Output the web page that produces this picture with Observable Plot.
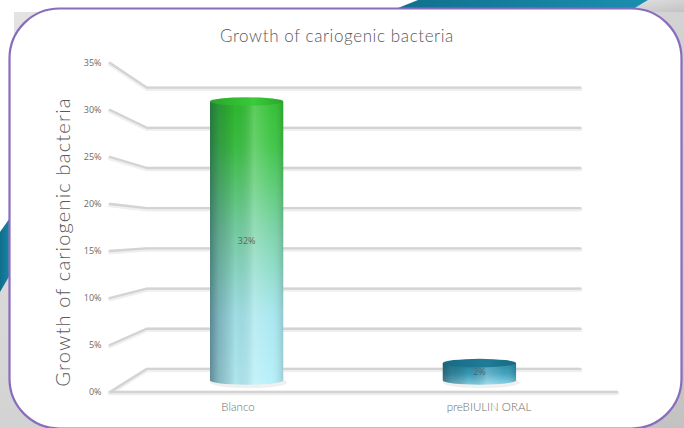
<!DOCTYPE html>
<html>
<head>
<meta charset="utf-8">
<script src="https://cdn.jsdelivr.net/npm/d3@7"></script>
<script src="https://cdn.jsdelivr.net/npm/@observablehq/plot@0.6"></script>
<style>
  html, body { margin: 0; padding: 0; width: 684px; height: 428px; overflow: hidden; background: #fff; }
  #stage { position: relative; width: 684px; height: 428px; overflow: hidden; }
  #bg, #chart { position: absolute; left: 0; top: 0; }
  #title { position: absolute; left: 0; top: 25px; width: 674px; text-align: center;
           font-family: Lato, sans-serif; font-weight: 300; font-size: 17px; letter-spacing: 0.6px; color: #595959; }
  .ytitle text { letter-spacing: 1.2px; }
</style>
</head>
<body>
<div id="stage">
  <svg id="bg" width="684" height="428">
    <defs>
      <linearGradient id="grayBg" x1="0" y1="0" x2="1" y2="1">
        <stop offset="0" stop-color="#e4e4e4"/>
        <stop offset="1" stop-color="#c2c2c2"/>
      </linearGradient>
      <linearGradient id="tealBg" x1="0" y1="0" x2="1" y2="0">
        <stop offset="0" stop-color="#0f6f8c"/>
        <stop offset="1" stop-color="#1a8fb0"/>
      </linearGradient>
    </defs>
    <rect x="0" y="0" width="684" height="428" fill="url(#grayBg)"/>
    <polygon points="0,0 684,0 684,12 0,12" fill="#ffffff"/>
    <polygon points="0,0 14,0 14,215 0,232" fill="#ffffff"/>
    <polygon points="640,0 684,0 684,12 620,12" fill="url(#grayBg)"/>
    <polygon points="418,0 648,0 628,12 388,12" fill="url(#tealBg)"/>
    <polygon points="0,232 14,212 14,268 0,292" fill="url(#tealBg)"/>
    <rect x="9.5" y="8.5" width="672" height="420" rx="50" ry="50" fill="#ffffff" stroke="#8a6cbd" stroke-width="2.2"/>
  </svg>
  <div id="title">Growth of cariogenic bacteria</div>
  <div id="chart"></div>
</div>
<script>
// ---- data ----
const categories = ["Blanco", "preBIULIN ORAL"];
const growth = [32, 2];              // percent
const valueLabels = ["32%", "2%"];
const yTicks = [0, 5, 10, 15, 20, 25, 30, 35];
const yTitle = "Growth of cariogenic bacteria";

// ---- 3D perspective model (styling, not data) ----
const K_BACK = 0.855, K_MID = 0.9275, VY = 233;
const ELL_RY = 4.2;
const barStyles = [
  {stops: [[0, "#2fbf2f"], [0.15, "#3cc443"], [0.45, "#78d3a6"], [0.75, "#a6e6ee"], [1, "#b6eff9"]], top: "#3acb3a", topEdge: "#2aa52a", label: "#5a6b5a"},
  {stops: [[0, "#24849f"], [0.5, "#3b9fbb"], [1, "#86d3e8"]], top: "#1f7c97", topEdge: "#166a84", label: "#4d6a78"}
];

function project(px, py, k, vx) {
  return [vx + (px - vx) * k, VY + (py - VY) * k];
}

function wall(index, {y}, values, {width, marginLeft, marginRight}) {
  const x0 = marginLeft, x1 = width - marginRight, vx = (x0 + x1) / 2;
  const g = d3.create("svg:g").attr("fill", "none").attr("stroke-linecap", "round").attr("stroke-linejoin", "round");
  const lines = [];
  for (const v of yTicks) {
    const yf = y(v);
    const [bx0, by] = project(x0, yf, K_BACK, vx);
    const [bx1] = project(x1, yf, K_BACK, vx);
    lines.push(`M${x0},${yf}L${bx0},${by}L${bx1},${by}`);
  }
  lines.push(`M${x0},${y(0)}L${x1},${y(0)}`);
  g.selectAll("path.halo").data(lines).join("path")
    .attr("d", d => d).attr("stroke", "#efefef").attr("stroke-width", 4.5).attr("transform", "translate(0,1)");
  g.selectAll("path.ln").data(lines).join("path")
    .attr("d", d => d).attr("stroke", "#d3d3d3").attr("stroke-width", 2.3);
  return g.node();
}

function cylinders(index, {x, y}, values, {width, marginLeft, marginRight}) {
  const vx = (marginLeft + width - marginRight) / 2;
  const bw = x.bandwidth();
  const g = d3.create("svg:g");
  const defs = g.append("defs");
  const shade = defs.append("linearGradient").attr("id", "cylShade").attr("x1", 0).attr("x2", 1).attr("y1", 0).attr("y2", 0);
  [[0, "#1c3c46", 0.55], [0.12, "#1c3c46", 0.3], [0.35, "#000", 0.04], [0.6, "#fff", 0.22], [0.85, "#fff", 0.04], [1, "#000", 0.14]]
    .forEach(([o, c, a]) => shade.append("stop").attr("offset", o).attr("stop-color", c).attr("stop-opacity", a));
  categories.forEach((c, i) => {
    const st = barStyles[i];
    const grad = defs.append("linearGradient").attr("id", "cylBody" + i).attr("x1", 0).attr("x2", 0).attr("y1", 0).attr("y2", 1);
    st.stops.forEach(([o, col]) => grad.append("stop").attr("offset", o).attr("stop-color", col));
    const tg = defs.append("linearGradient").attr("id", "cylTop" + i).attr("x1", 0).attr("x2", 1).attr("y1", 0).attr("y2", 0);
    tg.append("stop").attr("offset", 0).attr("stop-color", st.topEdge);
    tg.append("stop").attr("offset", 0.6).attr("stop-color", st.top);
    tg.append("stop").attr("offset", 1).attr("stop-color", st.topEdge);

    const [lx, ty] = project(x(c), y(growth[i]), K_MID, vx);
    const [rxp, by] = project(x(c) + bw, y(0), K_MID, vx);
    const cx = (lx + rxp) / 2, rx = (rxp - lx) / 2;
    const body = `M${lx},${ty}L${lx},${by}A${rx},${ELL_RY} 0 0 0 ${rxp},${by}L${rxp},${ty}Z`;
    g.append("ellipse").attr("cx", cx + 2).attr("cy", by + 2).attr("rx", rx + 2).attr("ry", ELL_RY + 1.5).attr("fill", "#000").attr("opacity", 0.06);
    g.append("path").attr("d", body).attr("fill", `url(#cylBody${i})`);
    g.append("path").attr("d", body).attr("fill", "url(#cylShade)");
    g.append("ellipse").attr("cx", cx).attr("cy", ty).attr("rx", rx).attr("ry", ELL_RY).attr("fill", `url(#cylTop${i})`);
    const [, ly] = project(0, y(growth[i] / 2), K_MID, vx);
    g.append("text").attr("x", cx).attr("y", ly).attr("dy", "0.35em").attr("text-anchor", "middle")
      .attr("font-size", 9).attr("fill", st.label).attr("font-family", "'Open Sans', sans-serif").text(valueLabels[i]);
  });
  return g.node();
}

const chart = Plot.plot({
  width: 684,
  height: 428,
  marginLeft: 110,
  marginRight: 67,
  marginTop: 63,
  marginBottom: 36,
  style: {background: "transparent", fontFamily: "Lato, sans-serif", overflow: "visible"},
  x: {type: "band", domain: categories, paddingInner: 0.684, paddingOuter: 0.35},
  y: {domain: [0, 35]},
  marks: [
    wall,
    cylinders,
    Plot.axisY({ticks: yTicks, tickSize: 0, tickPadding: 9, tickFormat: d => d + "%", fontSize: 9,
                color: "#6b6b6b", label: null, fontFamily: "'Open Sans', sans-serif"}),
    Plot.axisX({tickSize: 0, tickPadding: 10, fontSize: 11.5, fontWeight: 300, color: "#6e6e6e", label: null}),
    Plot.text([yTitle], {frameAnchor: "left", rotate: -90, textAnchor: "middle", dx: -47, dy: 14, text: d => d,
                         fontSize: 20, fontWeight: 300, fill: "#595959", className: "ytitle"})
  ]
});
document.getElementById("chart").appendChild(chart);
</script>
</body>
</html>
